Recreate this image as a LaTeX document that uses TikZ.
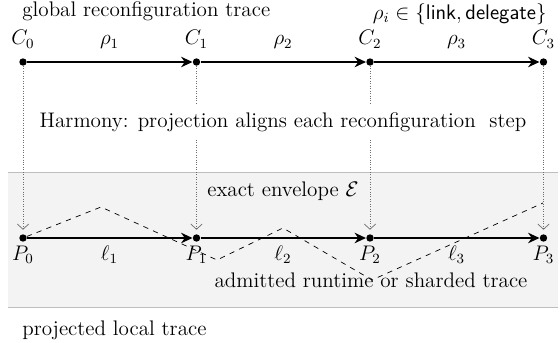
\documentclass[12pt,tikz,border=0pt]{standalone}
\usepackage{amsmath}
\usepackage{amssymb}
\usetikzlibrary{arrows.meta, positioning}
\definecolor{bandbg} {RGB}{243,243,243}
\definecolor{bandbdr}{RGB}{190,190,190}
\definecolor{projclr}{RGB}{110,110,110}
\tikzset{
  dotnode/.style={circle, fill=black, inner sep=0pt, minimum size=4.2pt},
  steparr/.style={-{Stealth[length=6.5pt,width=6pt]}, thick},
  projarr/.style={-{Straight Barb[length=3pt,width=6.5pt]}, densely dotted, color=projclr, shorten >=2.4pt},
  envpath/.style={dashed, thin},
  lbl/.style={inner sep=0pt, anchor=base},
  harmlbl/.style={fill=white, inner xsep=2pt, inner ysep=4.3pt},
}

\begin{document}
\begin{tikzpicture}[x=1cm, y=1cm]
\useasboundingbox (-0.46,-2.08) rectangle (10.74,4.76);
% shaded local band
\fill[bandbg] (-0.30,-1.38) rectangle (10.70,1.32);
\draw[bandbdr] (-0.30,1.32) -- (10.70,1.32);
\draw[bandbdr] (-0.30,-1.38) -- (10.70,-1.38);
\node[lbl, anchor=base west] (gtitle) at (-0.02,4.42) {global reconfiguration trace};
\node[lbl, anchor=base east] (rhoset) at (10.48,4.37) {$\rho_i \in \{\textsf{link}, \textsf{delegate}\}$};
\node[lbl, anchor=base west] (ltitle) at (-0.02,-1.94) {projected local trace};
% global configurations
\node[dotnode] (c0) at (0,3.52) {};
\node[dotnode] (c1) at (3.47,3.52) {};
\node[dotnode] (c2) at (6.94,3.52) {};
\node[dotnode] (c3) at (10.41,3.52) {};
% local projections
\node[dotnode] (p0) at (0,0) {};
\node[dotnode] (p1) at (3.47,0) {};
\node[dotnode] (p2) at (6.94,0) {};
\node[dotnode] (p3) at (10.41,0) {};
\node[lbl] (lc0) at (0,3.86) {$C_0$};
\node[lbl] (lc1) at (3.47,3.86) {$C_1$};
\node[lbl] (lc2) at (6.94,3.86) {$C_2$};
\node[lbl] (lc3) at (10.41,3.86) {$C_3$};
\node[lbl] (r1) at (1.73,3.86) {$\rho_1$};
\node[lbl] (r2) at (5.20,3.86) {$\rho_2$};
\node[lbl] (r3) at (8.67,3.86) {$\rho_3$};
\node[lbl] (lp0) at (0,-0.44) {$P_0$};
\node[lbl] (lp1) at (3.47,-0.44) {$P_1$};
\node[lbl] (lp2) at (6.94,-0.44) {$P_2$};
\node[lbl] (lp3) at (10.41,-0.44) {$P_3$};
\node[lbl] (l1) at (1.73,-0.44) {$\ell_1$};
\node[lbl] (l2) at (5.20,-0.44) {$\ell_2$};
\node[lbl] (l3) at (8.67,-0.44) {$\ell_3$};
% projection of each configuration
\draw[projarr] (c0) -- (p0);
\draw[projarr] (c1) -- (p1);
\draw[projarr] (c2) -- (p2);
\draw[projarr] (c3) -- (p3);
\node[harmlbl] (harmony) at (5.2,2.31) {Harmony: projection aligns each reconfiguration\ \ step};
% admitted trace inside the envelope
\draw[envpath] (p0) -- (1.56,0.62) -- (3.88,-0.44) -- (5.20,0.20) -- (6.98,-0.84) -- (10.40,0.70);
\node[lbl] (envlbl) at (5.20,0.82) {exact envelope $\mathcal{E}$};
\node[lbl] (admlbl) at (6.96,-0.98) {admitted runtime or sharded trace};
\draw[steparr] (c0) -- (c1);
\draw[steparr] (c1) -- (c2);
\draw[steparr] (c2) -- (c3);
\draw[steparr] (p0) -- (p1);
\draw[steparr] (p1) -- (p2);
\draw[steparr] (p2) -- (p3);
\end{tikzpicture}
\end{document}
